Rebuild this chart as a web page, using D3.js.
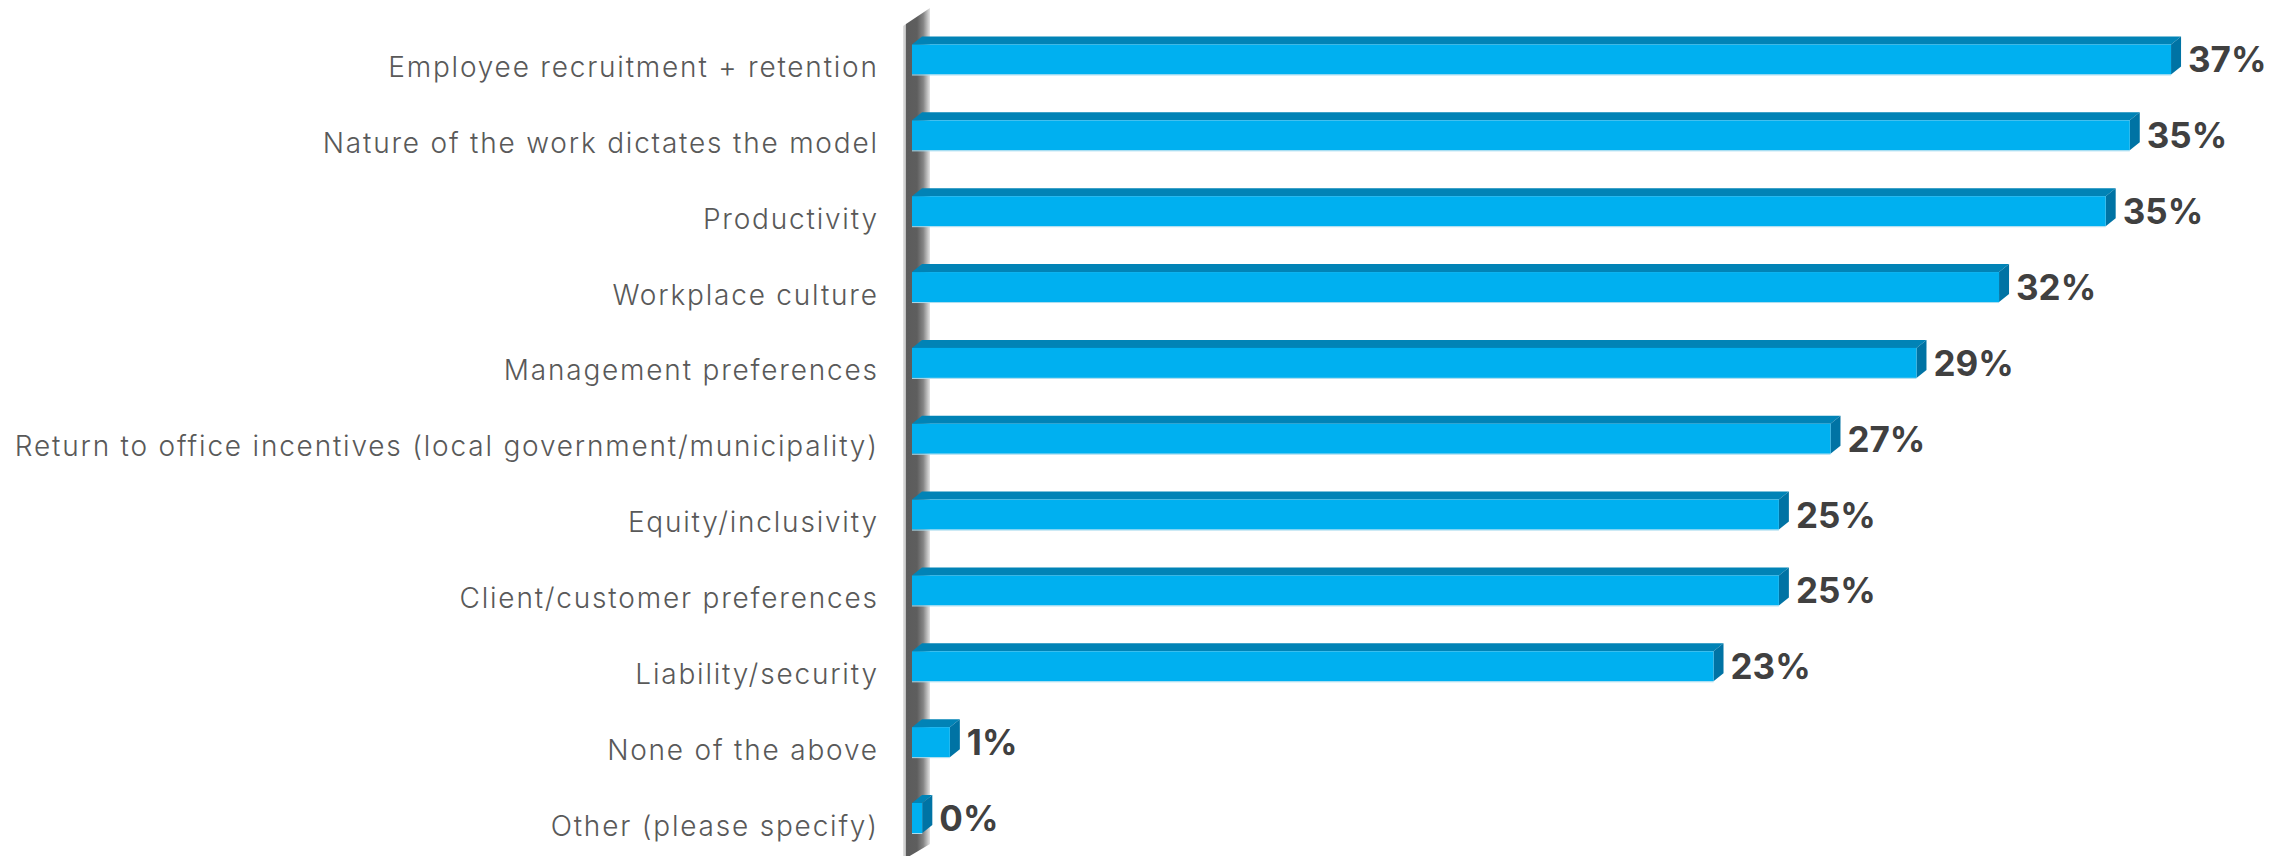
<!DOCTYPE html>
<html>
<head>
<meta charset="utf-8">
<script src="https://cdn.jsdelivr.net/npm/d3@7"></script>
<style>
  html, body { margin: 0; padding: 0; background: #ffffff; }
  svg { display: block; }
</style>
</head>
<body>
<script>
const categories = [
  "Employee recruitment + retention",
  "Nature of the work dictates the model",
  "Productivity",
  "Workplace culture",
  "Management preferences",
  "Return to office incentives (local government/municipality)",
  "Equity/inclusivity",
  "Client/customer preferences",
  "Liability/security",
  "None of the above",
  "Other (please specify)"
];
const values = [36.6, 35.4, 34.7, 31.6, 29.2, 26.7, 25.2, 25.2, 23.3, 1.1, 0.3];
const valueLabels = ["37%", "35%", "35%", "32%", "29%", "27%", "25%", "25%", "23%", "1%", "0%"];

const W = 2293, H = 856;
const depthX = 10, depthY = 8;

const svg = d3.select("body").append("svg")
  .attr("width", W).attr("height", H);

const x = d3.scaleLinear().domain([0, 37]).range([912, 912 + 37 * 34.4]);
const y = d3.scaleBand().domain(categories).range([44.5, 833])
  .paddingInner(0.6045).paddingOuter(0);

// gradient for the 3D wall
const defs = svg.append("defs");
const grad = defs.append("linearGradient").attr("id", "wallGrad")
  .attr("x1", "0%").attr("x2", "100%").attr("y1", "0%").attr("y2", "0%");
[["0%", "#e2e2e2"], ["9%", "#c8c8c8"], ["13%", "#5c5c5c"], ["52%", "#5e5e5e"],
 ["75%", "#858585"], ["100%", "#e4e4e4"]].forEach(([o, c]) =>
  grad.append("stop").attr("offset", o).attr("stop-color", c));

const wx0 = 903, wx1 = 930;
svg.append("path")
  .attr("d", `M${wx0},26 L${wx1},8 L${wx1},844 L${wx0},860 Z`)
  .attr("fill", "url(#wallGrad)");

const bars = svg.append("g").selectAll("g").data(categories).join("g");

const x0 = x(0);
// top face
bars.append("path")
  .attr("d", (c, i) => {
    const t = y(c), r = x(values[i]);
    return `M${x0},${t} L${x0 + depthX},${t - depthY} L${r + depthX},${t - depthY} L${r},${t} Z`;
  })
  .attr("fill", "#0183b6");
// side face
bars.append("path")
  .attr("d", (c, i) => {
    const t = y(c), b = t + y.bandwidth(), r = x(values[i]);
    return `M${r},${t} L${r + depthX},${t - depthY} L${r + depthX},${b - depthY} L${r},${b} Z`;
  })
  .attr("fill", "#0073a4");
// front face
bars.append("rect")
  .attr("x", x0)
  .attr("y", c => y(c))
  .attr("width", (c, i) => x(values[i]) - x0)
  .attr("height", y.bandwidth())
  .attr("fill", "#00b0f0");
// light bottom edge
bars.append("line")
  .attr("x1", x0)
  .attr("x2", (c, i) => x(values[i]))
  .attr("y1", c => y(c) + y.bandwidth() + 0.5)
  .attr("y2", c => y(c) + y.bandwidth() + 0.5)
  .attr("stroke", "#a9dcef").attr("stroke-width", 1);

// value labels
bars.append("text")
  .attr("x", (c, i) => x(values[i]) + depthX + 7)
  .attr("y", c => y(c) + y.bandwidth() / 2 + 13)
  .attr("font-family", "Inter, 'Open Sans', sans-serif")
  .attr("font-weight", 700)
  .attr("font-size", 35)
  .attr("fill", "#404040")
  .text((c, i) => valueLabels[i]);

// category labels
svg.append("g").selectAll("text").data(categories).join("text")
  .attr("x", 878.8)
  .attr("y", c => y(c) + y.bandwidth() / 2 + 17.5)
  .attr("text-anchor", "end")
  .attr("font-family", "Inter, 'Open Sans', sans-serif")
  .attr("font-weight", 300)
  .attr("font-size", 28)
  .attr("letter-spacing", "1.8px")
  .attr("fill", "#595959")
  .text(c => c);
</script>
</body>
</html>
